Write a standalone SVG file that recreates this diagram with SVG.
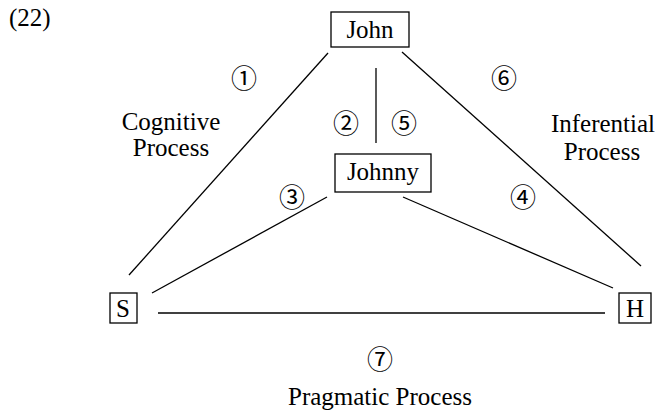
<svg xmlns="http://www.w3.org/2000/svg" width="658" height="419" viewBox="0 0 658 419">
<style>
text{font-family:"Liberation Serif","Times New Roman",serif;font-size:25px;fill:#000}
.c{text-anchor:middle}
.n{font-family:"Noto Sans CJK JP","DejaVu Sans",sans-serif;font-size:26px;text-anchor:middle}
.box{fill:#fff;stroke:#000;stroke-width:1.3}
line{stroke:#000;stroke-width:1.3}
</style>
<rect width="658" height="419" fill="#fff"/>
<text x="9" y="26" font-size="22">(22)</text>
<g id="connectors">
<line x1="328" y1="53" x2="129" y2="275"/>
<line x1="402" y1="52" x2="641" y2="266"/>
<line x1="376" y1="68" x2="376" y2="143"/>
<line x1="327" y1="197" x2="152" y2="293"/>
<line x1="403" y1="197" x2="613" y2="288"/>
<line x1="158" y1="313" x2="605" y2="313"/>
</g>
<g id="labels">
<text class="n" x="244" y="88">①</text>
<text class="n" x="346" y="133">②</text>
<text class="n" x="404" y="133">⑤</text>
<text class="n" x="504" y="88">⑥</text>
<text class="n" x="292" y="207">③</text>
<text class="n" x="523" y="207">④</text>
<text class="n" x="380" y="369">⑦</text>
<text class="c" x="171" y="130">Cognitive</text>
<text class="c" x="171" y="156">Process</text>
<text class="c" x="603" y="132">Inferential</text>
<text class="c" x="602" y="160">Process</text>
<text class="c" x="380" y="405">Pragmatic Process</text>
</g>
<g id="John"><rect class="box" x="331" y="12" width="78" height="35"/><text class="c" x="370" y="38">John</text></g>
<g id="Johnny"><rect class="box" x="335" y="154" width="96" height="38"/><text class="c" x="383" y="180">Johnny</text></g>
<g id="S"><rect class="box" x="110" y="293" width="27" height="30"/><text class="c" x="123" y="317">S</text></g>
<g id="H"><rect class="box" x="619" y="293" width="32" height="30"/><text class="c" x="635" y="317">H</text></g>
</svg>
